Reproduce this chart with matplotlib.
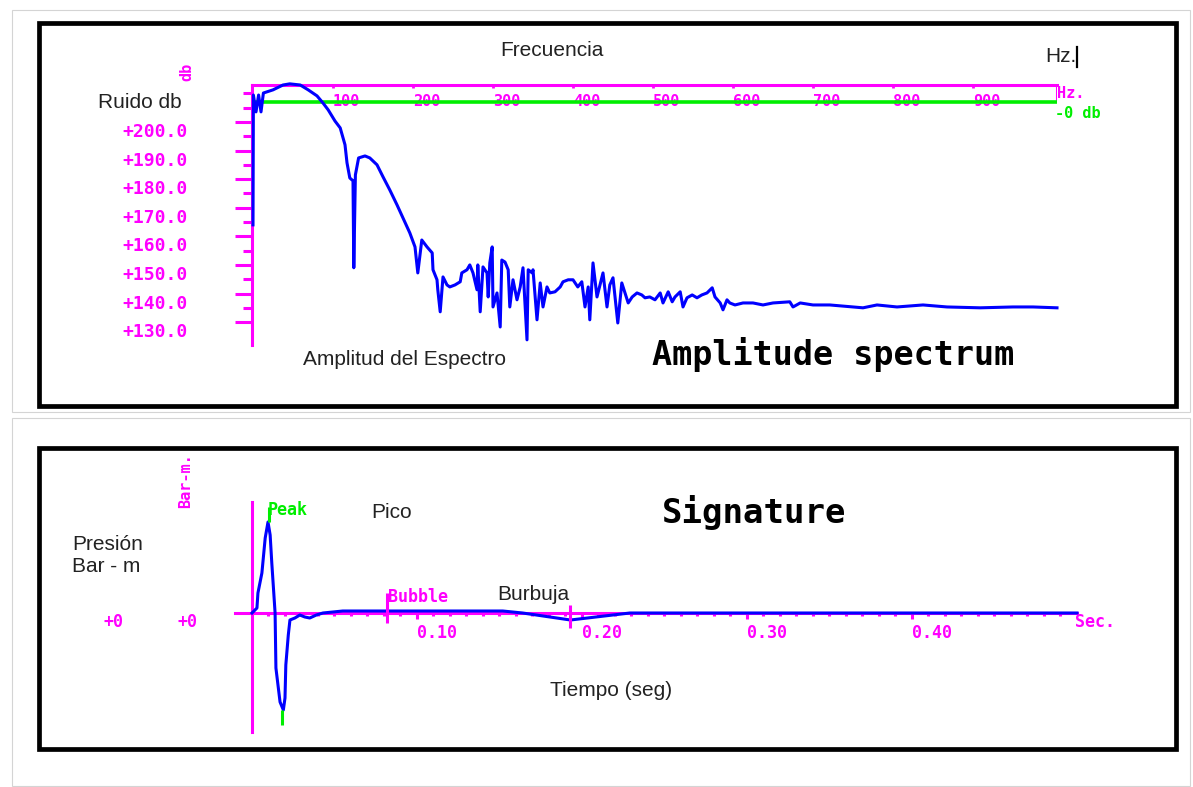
import matplotlib.pyplot as plt
from matplotlib.patches import Rectangle
from matplotlib.lines import Line2D
from matplotlib.transforms import ScaledTranslation

# Espectro de amplitud (Hz, dB)
spec_hz = [0, 0.5, 3.75, 7, 10, 13, 17.5, 25, 37.5, 46, 59, 69, 80, 87.5, 94, 102.5,
           109, 115, 117.5, 121, 125, 126, 128, 132, 140, 146, 155, 162.5, 171, 180,
           187.5, 196, 202.5, 206, 211, 217.5, 224, 225, 230, 231, 234, 237.5, 242.5,
           246, 252.5, 259, 261, 267.5, 271, 275, 280, 281, 284, 287.5, 292.5, 294,
           296, 299, 300, 305, 309, 311, 315, 319, 321, 325, 330, 334, 337.5, 342.5,
           344, 349, 350, 355, 359, 362.5, 367.5, 371, 377.5, 384, 387.5, 394, 400,
           406, 411, 415, 419, 421, 425, 430, 437.5, 442.5, 446, 450, 456, 461, 465,
           469, 474, 480, 486, 490, 496, 502.5, 509, 512.5, 519, 524, 527.5, 534,
           537.5, 542.5, 549, 555, 561, 567.5, 574, 577.5, 584, 587.5, 592.5, 596,
           602.5, 612.5, 625, 637.5, 650, 671, 675, 684, 700, 721, 762.5, 780, 805,
           837.5, 867.5, 909, 950, 975, 1005]
spec_db = [164.0, 209.4, 203.5, 209.4, 203.5, 210.1, 210.5, 211.2, 212.9, 213.3, 212.9,
           211.2, 209.1, 206.6, 204.2, 200.3, 197.9, 192.0, 185.7, 180.4, 179.4, 149.0,
           181.5, 187.4, 188.1, 187.4, 185.0, 180.8, 176.2, 171.0, 166.4, 161.2, 156.3,
           147.2, 158.7, 156.3, 154.2, 148.3, 144.8, 141.3, 133.6, 145.8, 143.0, 142.3,
           143.0, 144.1, 147.2, 148.3, 150.0, 147.2, 141.3, 150.0, 133.6, 149.3, 147.2,
           138.8, 150.7, 156.3, 135.3, 140.2, 128.3, 151.7, 151.0, 148.3, 135.3, 144.8,
           137.8, 142.3, 149.0, 123.8, 148.3, 147.2, 148.3, 130.8, 143.7, 135.3, 142.3,
           140.2, 140.6, 142.3, 144.1, 144.8, 144.8, 142.3, 144.1, 135.3, 142.3, 130.8,
           150.7, 138.8, 147.2, 135.3, 143.0, 145.5, 129.7, 143.7, 140.2, 136.7, 138.8,
           140.2, 139.5, 138.5, 138.8, 137.8, 140.2, 136.7, 140.6, 137.1, 138.8, 140.6,
           135.3, 138.5, 139.5, 138.5, 139.5, 140.2, 142.0, 138.8, 136.7, 134.3, 137.8,
           136.7, 136.0, 136.7, 136.7, 136.0, 136.7, 137.1, 135.3, 136.7, 136.0, 136.0,
           135.0, 136.0, 135.3, 136.0, 135.3, 135.0, 135.3, 135.3, 135.0]
zero_db = 207.0
db_ticks = [200, 190, 180, 170, 160, 150, 140, 130]
db_labels = ['+200.0', '+190.0', '+180.0', '+170.0', '+160.0', '+150.0', '+140.0', '+130.0']
db_minor = [210, 205, 195, 185, 175, 165, 155, 145, 135]
hz_ticks = [100, 200, 300, 400, 500, 600, 700, 800, 900]
hz_labels = ['100', '200', '300', '400', '500', '600', '700', '800', '900']

# Firma (segundos, bar-m)
sig_t = [0.000, 0.003, 0.0036, 0.006, 0.008, 0.0097, 0.011, 0.012, 0.014, 0.0145,
         0.017, 0.019, 0.020, 0.0205, 0.022, 0.023, 0.026, 0.029, 0.032, 0.035,
         0.039, 0.043, 0.055, 0.152, 0.164, 0.193, 0.229, 0.500]
sig_p = [0.0, 0.5, 2.0, 4.0, 7.5, 9.1, 7.8, 5.0, 0.0, -5.5, -8.9, -9.7, -8.5, -5.2,
         -2.2, -0.7, -0.5, -0.2, -0.4, -0.5, -0.2, 0.0, 0.2, 0.2, 0.0, -0.7, 0.0, 0.0]
t_ticks = [0.1, 0.2, 0.3, 0.4]
t_labels = ['0.10', '0.20', '0.30', '0.40']
t_minor = [i / 100 for i in range(1, 50)]
bubble_marks = [0.082, 0.193]

MAG = '#ff00ff'
GRN = '#00ee00'
BLU = '#0000ff'
PIX = dict(family='DejaVu Sans Mono', weight='bold')
SANS = dict(family='Liberation Sans', color='#222222', fontsize=15)

W, H = 1193, 787
fig = plt.figure(figsize=(W / 100, H / 100), dpi=100)

def fx(x):
    return x / W

def fy(y):
    return 1 - y / H

# marcos
for x0, y0, x1, y1 in [(12, 10, 1190, 412), (12, 418, 1190, 786)]:
    fig.add_artist(Rectangle((fx(x0), fy(y1)), fx(x1) - fx(x0), fy(y0) - fy(y1),
                             transform=fig.transFigure, fill=False, ec='#d4d4d4', lw=0.8))
for x0, y0, x1, y1 in [(38.5, 23, 1175.5, 406), (38.5, 448, 1175.5, 749)]:
    fig.add_artist(Rectangle((fx(x0), fy(y1)), fx(x1) - fx(x0), fy(y0) - fy(y1),
                             transform=fig.transFigure, fill=False, ec='black', lw=3.4))

# ---- espectro ----
ax1 = fig.add_axes([fx(252), fy(345), fx(1057) - fx(252), fy(85) - fy(345)])
ax1.set_xlim(-1.25, 1005)
ax1.set_ylim(122.0, 212.9)
for s in ['right', 'bottom']:
    ax1.spines[s].set_visible(False)
for s in ['top', 'left']:
    ax1.spines[s].set_color(MAG)
    ax1.spines[s].set_linewidth(2.2)
ax1.plot(spec_hz, spec_db, color=BLU, lw=2.2, zorder=4, clip_on=False)
ax1.axhline(zero_db, color=GRN, lw=2.6, zorder=3)
ax1.vlines(ax1.get_xlim()[1], zero_db, ax1.get_ylim()[1], color=MAG, lw=2.2)

ax1.set_yticks(db_ticks, labels=db_labels)
ax1.set_yticks(db_minor, minor=True)
ax1.tick_params(axis='y', which='major', length=12.2, width=2.2, color=MAG,
                labelcolor=MAG, pad=34, labelsize=13)
ax1.tick_params(axis='y', which='minor', length=6.5, width=2.2, color=MAG)
down = ScaledTranslation(0, -8 / 100, fig.dpi_scale_trans)
for lbl in ax1.get_yticklabels():
    lbl.set_family(PIX['family'])
    lbl.set_weight('bold')
    lbl.set_transform(lbl.get_transform() + down)

ax1.xaxis.tick_top()
ax1.set_xticks(hz_ticks, labels=hz_labels)
ax1.tick_params(axis='x', direction='in', length=2.5, width=2, color=MAG,
                labelcolor=MAG, pad=-17, labelsize=11)
for lbl in ax1.get_xticklabels():
    lbl.set_family(PIX['family'])
    lbl.set_weight('bold')
    lbl.set_ha('left')

# ---- firma ----
ax2 = fig.add_axes([fx(235), fy(732), fx(1077) - fx(235), fy(502) - fy(732)])
ax2.set_xlim(-0.0103, 0.5)
ax2.set_ylim(-11.9, 11.1)
for s in ['right', 'top']:
    ax2.spines[s].set_visible(False)
for s in ['left', 'bottom']:
    ax2.spines[s].set_position(('data', 0))
    ax2.spines[s].set_color(MAG)
    ax2.spines[s].set_linewidth(2.2)
ax2.set_yticks([])
ax2.set_xticks(t_ticks, labels=t_labels)
ax2.set_xticks(t_minor, minor=True)
ax2.tick_params(axis='x', which='major', length=4, width=2.2, color=MAG,
                labelcolor=MAG, pad=4, labelsize=12)
ax2.tick_params(axis='x', which='minor', length=2.5, width=2.2, color=MAG)
for lbl in ax2.get_xticklabels():
    lbl.set_family(PIX['family'])
    lbl.set_weight('bold')
    lbl.set_ha('left')

ax2.plot(sig_t, sig_p, color=BLU, lw=2.2, zorder=4, clip_on=False)
ax2.vlines(bubble_marks, [-1.0, -1.5], [2.0, 0.8], color=MAG, lw=2.2, zorder=5)
i_pk = sig_p.index(max(sig_p))
i_tr = sig_p.index(min(sig_p))
ax2.vlines(sig_t[i_pk] + 0.0006, sig_p[i_pk], sig_p[i_pk] + 1.5, color=GRN, lw=2.2, zorder=5)
ax2.vlines(sig_t[i_tr] - 0.0006, sig_p[i_tr] - 1.5, sig_p[i_tr], color=GRN, lw=2.2, zorder=5)

# ---- textos ----
def txt(x, y, s, **kw):
    fig.text(fx(x), fy(y), s, va='center', **kw)

txt(500, 50, 'Frecuencia', **SANS)
txt(1045, 57, 'Hz.', **SANS)
fig.add_artist(Line2D([fx(1077), fx(1077)], [fy(47), fy(67)], color='black', lw=1.6))
txt(98, 102, 'Ruido db', **SANS)
txt(303, 360, 'Amplitud del Espectro', **SANS)
txt(652, 354, 'Amplitude spectrum', fontsize=24, color='black', **PIX)
txt(1057, 94, 'Hz.', fontsize=11, color=MAG, **PIX)
txt(1055, 113, '-0 db', fontsize=11, color=GRN, **PIX)
fig.text(fx(187), fy(72), 'db', rotation=90, ha='center', va='center',
         fontsize=11, color=MAG, **PIX)

txt(72, 545, 'Presión', **SANS)
txt(72, 567, 'Bar - m', **SANS)
txt(371, 513, 'Pico', **SANS)
txt(662, 512, 'Signature', fontsize=24.5, color='black', **PIX)
txt(497, 594, 'Burbuja', **SANS)
txt(550, 690, 'Tiempo (seg)', **SANS)
txt(268, 510, 'Peak', fontsize=12, color=GRN, **PIX)
txt(388, 597, 'Bubble', fontsize=12, color=MAG, **PIX)
txt(1075, 622, 'Sec.', fontsize=12, color=MAG, **PIX)
txt(104, 622, '+0', fontsize=12, color=MAG, **PIX)
txt(177, 622, '+0', fontsize=12, color=MAG, **PIX)
fig.text(fx(186), fy(481), 'Bar-m.', rotation=90, ha='center', va='center',
         fontsize=11, color=MAG, **PIX)

fig.savefig('out.png', dpi=100)
